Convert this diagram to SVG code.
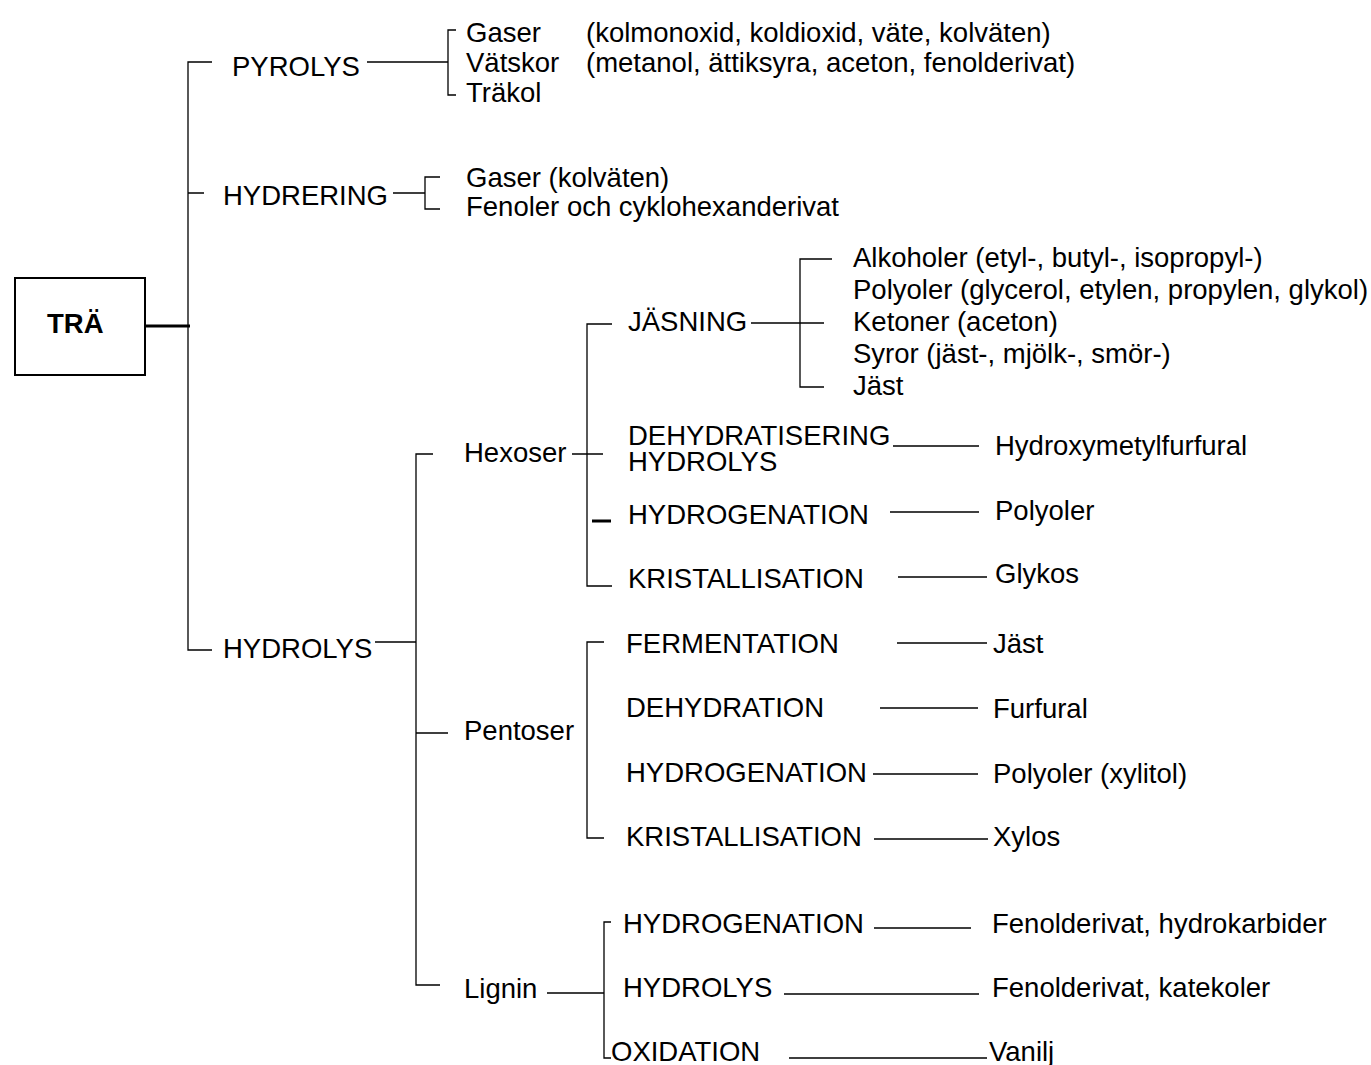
<svg xmlns="http://www.w3.org/2000/svg" width="1371" height="1065" viewBox="0 0 1371 1065">
<style>
text{font-family:"Liberation Sans",Arial,sans-serif;font-size:27.5px;fill:#000}
.b{font-weight:bold}
.ln{stroke:#000;stroke-width:1.3;fill:none}
.tk{stroke:#000;stroke-width:3;fill:none}
</style>
<rect width="1371" height="1065" fill="#fff"/>
<g id="connectors">
<path class="tk" d="M145 326H190"/>
<path class="ln" d="M212 62H188V650H212M188 193H204"/>
<path class="ln" d="M367 62H448M456 30H448V95H456"/>
<path class="ln" d="M393 193H425M440 177H425V209H440"/>
<path class="ln" d="M375 642H416M433 454H416V985H440M416 733H448"/>
<path class="ln" d="M572 454H603M612 324H587V586H612"/>
<path class="tk" d="M592 521H611"/>
<path class="ln" d="M751 323H824M832 259H800V387H824"/>
<path class="ln" d="M893 446H979M890 512H979M898 577H987"/>
<path class="ln" d="M604 642H587V838H604"/>
<path class="ln" d="M897 643H987M880 708H978M873 774H978M874 839H988"/>
<path class="ln" d="M547 993H604M611 922H604V1058H611"/>
<path class="ln" d="M874 928H971M784 994H979M789 1058H987"/>
</g>
<g id="n-tra"><rect x="15" y="278" width="130" height="97" fill="none" stroke="#000" stroke-width="2"/><text class="b" x="47" y="333">TRÄ</text></g>
<g id="n-pyrolys"><text x="232" y="76">PYROLYS</text></g>
<g id="n-pyro-gaser"><text x="466" y="42">Gaser</text><text x="586" y="42">(kolmonoxid, koldioxid, väte, kolväten)</text></g>
<g id="n-pyro-vatskor"><text x="466" y="72">Vätskor</text><text x="586" y="72">(metanol, ättiksyra, aceton, fenolderivat)</text></g>
<g id="n-pyro-trakol"><text x="466" y="102">Träkol</text></g>
<g id="n-hydrering"><text x="223" y="205">HYDRERING</text></g>
<g id="n-hyd-gaser"><text x="466" y="187">Gaser (kolväten)</text></g>
<g id="n-hyd-fenoler"><text x="466" y="216">Fenoler och cyklohexanderivat</text></g>
<g id="n-hydrolys"><text x="223" y="658">HYDROLYS</text></g>
<g id="n-hexoser"><text x="464" y="462">Hexoser</text></g>
<g id="n-jasning"><text x="628" y="331">JÄSNING</text></g>
<g id="n-jas-products">
<text x="853" y="267">Alkoholer (etyl-, butyl-, isopropyl-)</text>
<text x="853" y="299">Polyoler (glycerol, etylen, propylen, glykol)</text>
<text x="853" y="331">Ketoner (aceton)</text>
<text x="853" y="363">Syror (jäst-, mjölk-, smör-)</text>
<text x="853" y="395">Jäst</text>
</g>
<g id="n-dehydratisering"><text x="628" y="445">DEHYDRATISERING</text><text x="628" y="471">HYDROLYS</text></g>
<g id="n-hmf"><text x="995" y="455">Hydroxymetylfurfural</text></g>
<g id="n-hex-hydrogenation"><text x="628" y="524">HYDROGENATION</text></g>
<g id="n-hex-polyoler"><text x="995" y="520">Polyoler</text></g>
<g id="n-hex-kristallisation"><text x="628" y="588">KRISTALLISATION</text></g>
<g id="n-glykos"><text x="995" y="583">Glykos</text></g>
<g id="n-pentoser"><text x="464" y="740">Pentoser</text></g>
<g id="n-fermentation"><text x="626" y="653">FERMENTATION</text></g>
<g id="n-pen-jast"><text x="993" y="653">Jäst</text></g>
<g id="n-dehydration"><text x="626" y="717">DEHYDRATION</text></g>
<g id="n-furfural"><text x="993" y="718">Furfural</text></g>
<g id="n-pen-hydrogenation"><text x="626" y="782">HYDROGENATION</text></g>
<g id="n-xylitol"><text x="993" y="783">Polyoler (xylitol)</text></g>
<g id="n-pen-kristallisation"><text x="626" y="846">KRISTALLISATION</text></g>
<g id="n-xylos"><text x="993" y="846">Xylos</text></g>
<g id="n-lignin"><text x="464" y="998">Lignin</text></g>
<g id="n-lig-hydrogenation"><text x="623" y="933">HYDROGENATION</text></g>
<g id="n-lig-hydrokarbider"><text x="992" y="933">Fenolderivat, hydrokarbider</text></g>
<g id="n-lig-hydrolys"><text x="623" y="997">HYDROLYS</text></g>
<g id="n-lig-katekoler"><text x="992" y="997">Fenolderivat, katekoler</text></g>
<g id="n-oxidation"><text x="611" y="1061">OXIDATION</text></g>
<g id="n-vanilj"><text x="989" y="1061">Vanilj</text></g>
</svg>
